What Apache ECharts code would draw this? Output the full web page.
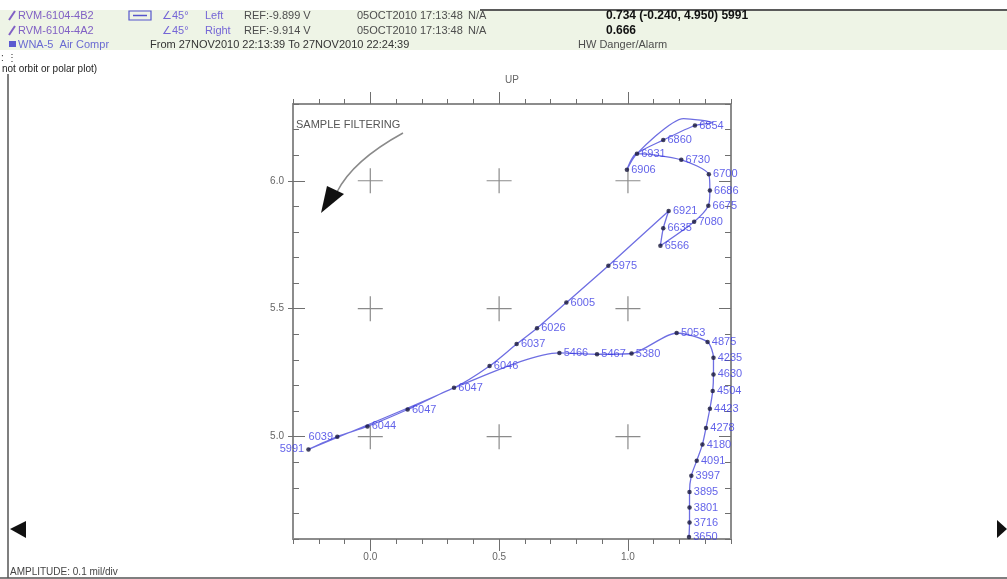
<!DOCTYPE html>
<html>
<head>
<meta charset="utf-8">
<script src="https://cdn.jsdelivr.net/npm/echarts@6/dist/echarts.min.js"></script>
<style>
  html, body { margin: 0; padding: 0; background: #fff; }
  #chart { width: 1007px; height: 579px; }
</style>
</head>
<body>
<div id="chart"></div>
<script>
// orbit samples (amplitude, mil) with their speed labels (rpm); '' = unlabelled sample
const rpmLabels = ['3650', '3716', '3801', '3895', '3997', '4091', '4180', '4278', '4423', '4504',
  '4630', '4235', '4875', '5053', '5380', '5467', '5466', '6047', '6047', '6044',
  '6039', '5991', '6046', '6037', '6026', '6005', '5975', '6566', '6635', '6921',
  '7080', '6675', '6686', '6700', '6730', '6931', '6906', '6860', '6854', '', ''];
const orbitX = [1.237, 1.239, 1.239, 1.239, 1.246, 1.267, 1.289, 1.303, 1.318, 1.329,
  1.332, 1.332, 1.309, 1.189, 1.014, 0.880, 0.734, 0.325, 0.145, -0.011,
  -0.128, -0.240, 0.463, 0.568, 0.647, 0.761, 0.924, 1.126, 1.137, 1.158,
  1.257, 1.312, 1.318, 1.314, 1.207, 1.035, 0.996, 1.137, 1.260, 1.329, 1.216];
const orbitY = [4.608, 4.664, 4.723, 4.784, 4.847, 4.906, 4.969, 5.034, 5.109, 5.178,
  5.243, 5.308, 5.370, 5.405, 5.325, 5.322, 5.327, 5.191, 5.106, 5.040,
  5.000, 4.950, 5.276, 5.362, 5.424, 5.524, 5.668, 5.746, 5.814, 5.882,
  5.840, 5.902, 5.962, 6.025, 6.082, 6.106, 6.043, 6.159, 6.216, 6.227, 6.243];
// order in which the trace visits the samples (indices into the arrays above)
const pathOrder = [0, 1, 2, 3, 4, 5, 6, 7, 8, 9, 10, 11, 12, 13, 14, 15, 16, 17, 18, 19, 20, 21,
  17, 22, 23, 24, 25, 26, 29, 28, 27, 30, 31, 32, 33, 34, 35, 36, 35, 37, 38, 39, 40, 35];

// axis scale
const xMin = -0.3, xMax = 1.4, yMin = 4.6, yMax = 6.3;
const majorX = [0.0, 0.5, 1.0];
const majorY = [5.0, 5.5, 6.0];

const chart = echarts.init(document.getElementById('chart'));

const FONT = '"Liberation Sans", Arial, sans-serif';
const FRAME = '#8c8c8c';
const TICK = '#6f6f6f';
const leftLabelled = ['5991', '6039'];

const isMajor = (v) => Math.round(v * 10) % 5 === 0;
const fmt = (v) => (isMajor(v) ? (Math.round(v * 10) / 10).toFixed(1) : '');

function xAx(position, major, extra) {
  return Object.assign({
    type: 'value', position, min: xMin, max: xMax, interval: 0.1,
    splitLine: { show: false },
    axisLine: { show: !major, onZero: false, lineStyle: { color: FRAME, width: 2 } },
    axisTick: major
      ? { customValues: majorX, length: 12, lineStyle: { color: TICK } }
      : { length: 5, lineStyle: { color: TICK } },
    axisLabel: { show: false },
  }, extra || {});
}
function yAx(position, major, inside, len, extra) {
  return Object.assign({
    type: 'value', position, min: yMin, max: yMax, interval: 0.1,
    splitLine: { show: false },
    axisLine: { show: !major, onZero: false, lineStyle: { color: FRAME, width: 2 } },
    axisTick: major
      ? { customValues: majorY, inside, length: len, lineStyle: { color: TICK } }
      : { inside, length: len, lineStyle: { color: TICK } },
    axisLabel: { show: false },
  }, extra || {});
}

const pathData = pathOrder.map((i) => [orbitX[i], orbitY[i]]);
const pointData = rpmLabels
  .map((r, i) => ({
    value: [orbitX[i], orbitY[i]],
    name: r,
    label: { position: leftLabelled.includes(r) ? 'left' : 'right' },
  }))
  .filter((d) => d.name !== '');

const crosses = [];
majorX.forEach((x) => majorY.forEach((y) => crosses.push([x, y])));

function txt(text, x, y, fill, font, extra) {
  return {
    type: 'text', silent: true,
    style: Object.assign({ text, x, y, fill, font, verticalAlign: 'middle' }, extra || {}),
  };
}
const hdr = '11px ' + FONT;
const purple = '#8060c4';
const violet = '#7566d6';
const grey = '#4d4d4d';

chart.setOption({
  animation: false,
  backgroundColor: '#ffffff',
  grid: { left: 293, right: 276, top: 104, bottom: 40 },
  xAxis: [
    xAx('bottom', false, {
      axisLabel: { show: true, formatter: fmt, margin: 13, color: '#666', fontSize: 10, fontFamily: FONT },
    }),
    xAx('bottom', true),
    xAx('top', false, {
      name: 'UP', nameLocation: 'middle', nameGap: 19,
      nameTextStyle: { color: '#666', fontSize: 10, fontFamily: FONT },
    }),
    xAx('top', true),
  ],
  yAxis: [
    yAx('left', false, true, 6, {
      axisLabel: { show: true, formatter: fmt, margin: 9, color: '#666', fontSize: 10, fontFamily: FONT },
    }),
    yAx('left', true, true, 12),
    yAx('left', true, false, 5),
    yAx('right', false, true, 6),
    yAx('right', true, true, 12),
  ],
  series: [
    {
      type: 'scatter', silent: true, z: 1,
      data: crosses,
      symbol: 'path://M0,12 L24,12 M12,0 L12,24',
      symbolSize: 25,
      itemStyle: { color: 'none', borderColor: '#6e6e6e', borderWidth: 1.2 },
    },
    {
      type: 'line', silent: true, z: 2,
      data: pathData,
      showSymbol: false,
      smooth: 0.25,
      lineStyle: { color: '#6e6ee2', width: 1.3 },
    },
    {
      type: 'scatter', silent: true, z: 3,
      data: pointData,
      symbol: 'circle', symbolSize: 4.5,
      itemStyle: { color: '#15153a' },
      label: {
        show: true, formatter: (p) => p.name, distance: 2,
        color: '#3a3ae4', fontSize: 11, fontFamily: FONT,
      },
    },
  ],
  graphic: [
    // header band
    { type: 'rect', silent: true, z: -10, shape: { x: 0, y: 10, width: 1007, height: 40 }, style: { fill: '#eef4e6' } },
    { type: 'line', silent: true, shape: { x1: 480, y1: 10, x2: 1007, y2: 10 }, style: { stroke: '#5a5a5a', lineWidth: 2 } },
    // frame
    { type: 'line', silent: true, shape: { x1: 8, y1: 74, x2: 8, y2: 578 }, style: { stroke: '#555', lineWidth: 1.5 } },
    { type: 'line', silent: true, shape: { x1: 0, y1: 578, x2: 1007, y2: 578 }, style: { stroke: '#555', lineWidth: 1.5 } },
    // header row 1
    { type: 'line', silent: true, shape: { x1: 9, y1: 20, x2: 15, y2: 11 }, style: { stroke: purple, lineWidth: 2 } },
    txt('RVM-6104-4B2', 18, 16, purple, hdr),
    { type: 'rect', silent: true, shape: { x: 129, y: 11, width: 22, height: 9 }, style: { fill: 'none', stroke: '#5555cc', lineWidth: 1.2 } },
    { type: 'line', silent: true, shape: { x1: 133, y1: 15.5, x2: 147, y2: 15.5 }, style: { stroke: '#5555cc', lineWidth: 1.5 } },
    txt('\u222045\u00b0', 162, 16, violet, hdr),
    txt('Left', 205, 16, violet, hdr),
    txt('REF:-9.899 V', 244, 16, grey, hdr),
    txt('05OCT2010 17:13:48', 357, 16, grey, hdr),
    txt('N/A', 468, 16, grey, hdr),
    txt('0.734 (-0.240, 4.950) 5991', 606, 16, '#111', 'bold 12px ' + FONT),
    // header row 2
    { type: 'line', silent: true, shape: { x1: 9, y1: 35, x2: 15, y2: 26 }, style: { stroke: purple, lineWidth: 2 } },
    txt('RVM-6104-4A2', 18, 30.5, purple, hdr),
    txt('\u222045\u00b0', 162, 30.5, violet, hdr),
    txt('Right', 205, 30.5, violet, hdr),
    txt('REF:-9.914 V', 244, 30.5, grey, hdr),
    txt('05OCT2010 17:13:48', 357, 30.5, grey, hdr),
    txt('N/A', 468, 30.5, grey, hdr),
    txt('0.666', 606, 30.5, '#111', 'bold 12px ' + FONT),
    // header row 3
    { type: 'rect', silent: true, shape: { x: 9, y: 41, width: 7, height: 6 }, style: { fill: '#5b5bd0' } },
    txt('WNA-5  Air Compr', 18, 44.5, '#6a6ad2', hdr),
    txt('From 27NOV2010 22:13:39 To 27NOV2010 22:24:39', 150, 44.5, '#333', hdr),
    txt('HW Danger/Alarm', 578, 44.5, grey, hdr),
    // below header
    txt(': \u22ee', 1, 58, '#333', '10px ' + FONT),
    txt('not orbit or polar plot)', 2, 69, '#222', '10px ' + FONT),
    // annotation
    txt('SAMPLE FILTERING', 296, 125, '#555', '11px ' + FONT),
    { type: 'bezierCurve', silent: true, shape: { x1: 403, y1: 133, x2: 337, y2: 192, cpx1: 372, cpy1: 150, cpx2: 348, cpy2: 170 }, style: { stroke: '#8a8a8a', lineWidth: 1.5, fill: 'none' } },
    { type: 'polygon', silent: true, shape: { points: [[321, 213], [327, 186], [344, 194]] }, style: { fill: '#111' } },
    // footer
    txt('AMPLITUDE: 0.1 mil/div', 10, 572, '#444', '10px ' + FONT),
    { type: 'polygon', silent: true, shape: { points: [[10, 529], [26, 521], [26, 538]] }, style: { fill: '#111' } },
    { type: 'polygon', silent: true, shape: { points: [[1007, 529], [997, 520], [997, 538]] }, style: { fill: '#111' } },
  ],
});
</script>
</body>
</html>
